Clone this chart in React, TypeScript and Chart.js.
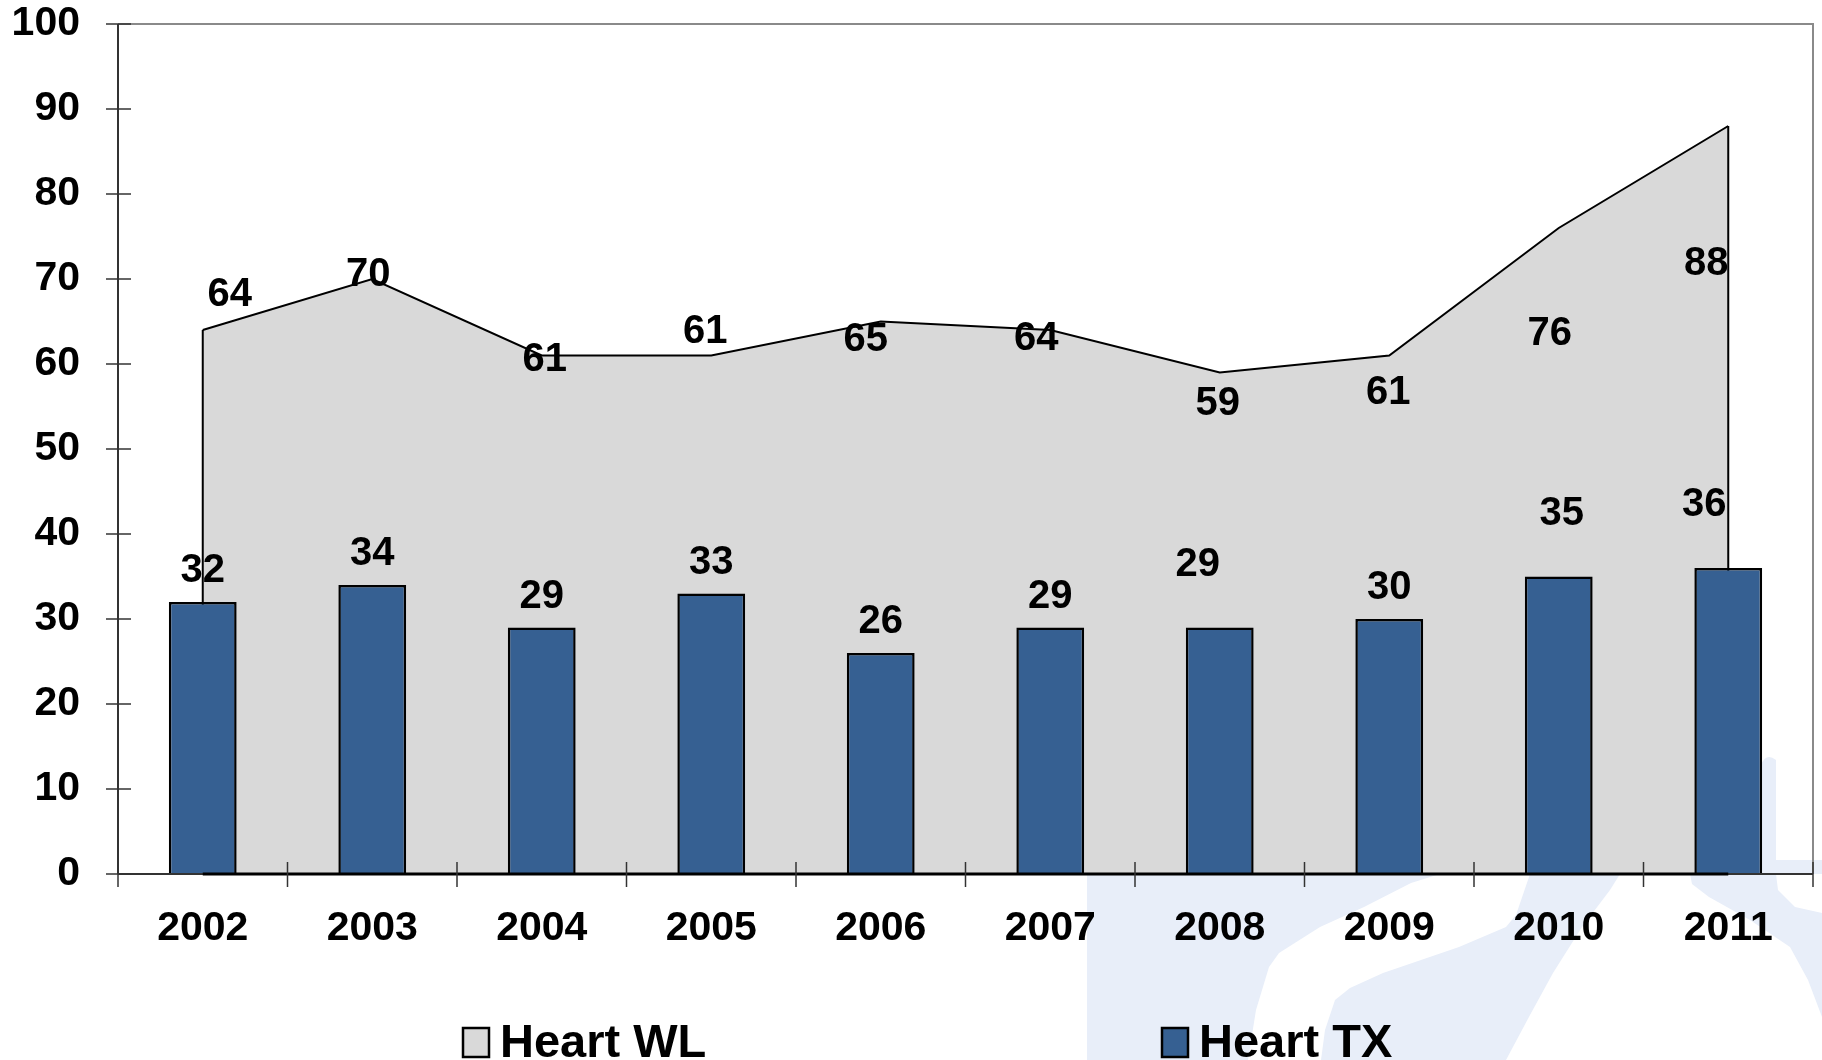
import React, { useEffect, useRef } from 'react';
import { Chart, registerables } from 'chart.js';

Chart.register(...registerables);

const years = ['2002', '2003', '2004', '2005', '2006', '2007', '2008', '2009', '2010', '2011'];
const heartWL = [64, 70, 61, 61, 65, 64, 59, 61, 76, 88];
const heartTX = [32, 34, 29, 33, 26, 29, 29, 30, 35, 36];
const seriesNames = ['Heart WL', 'Heart TX'];

// label offsets (style only): [dx, dy] from the data point / bar top to label centre
const wlLabelOffsets = [[27, -38], [-4, -7], [3, 1], [-6, -27], [-15, 15], [-14, 6], [-2, 28], [-1, 34], [-9, 103], [-22, 135]];
const txLabelOffsets = [[0, -34], [0, -34], [0, -34], [0, -34], [0, -34], [0, -34], [-22, -66], [0, -34], [3, -66], [-24, -66]];

const FONT = '"Liberation Sans", Arial, Helvetica, sans-serif';
const WL_FILL = '#D9D9D9';
const TX_FILL = '#366092';
const WM = '#E8EEF9';

function poly(ctx: any, pts: number[][]) {
  ctx.beginPath();
  ctx.moveTo(pts[0][0], pts[0][1]);
  for (let i = 1; i < pts.length; i++) ctx.lineTo(pts[i][0], pts[i][1]);
  ctx.closePath();
  ctx.fill();
}

const watermarkPlugin = {
  id: 'watermark',
  beforeDraw(chart: any) {
    const ctx = chart.ctx;
    ctx.save();
    ctx.fillStyle = '#ffffff';
    ctx.fillRect(0, 0, chart.width, chart.height);
    ctx.fillStyle = WM;
    ctx.fillRect(1087, 860, 1822 - 1087, 200);
    ctx.beginPath();
    ctx.moveTo(1761, 870);
    ctx.lineTo(1761, 765);
    ctx.quadraticCurveTo(1766, 752, 1776, 760);
    ctx.lineTo(1776, 870);
    ctx.closePath();
    ctx.fill();
    ctx.fillStyle = '#ffffff';
    poly(ctx, [[1248, 1060], [1256, 1010], [1269, 967], [1279, 953], [1320, 927], [1364, 907], [1411, 883], [1440, 874], [1530, 874], [1516, 915], [1506, 927], [1459, 947], [1383, 973], [1350, 988], [1335, 1000], [1325, 1030], [1321, 1060]]);
    poly(ctx, [[1506, 1060], [1530, 1015], [1553, 973], [1582, 927], [1610, 890], [1620, 874], [1690, 874], [1692, 884], [1709, 897], [1750, 920], [1790, 947], [1808, 980], [1822, 1017], [1822, 1060]]);
    poly(ctx, [[1776, 874], [1778, 890], [1795, 907], [1822, 913], [1822, 874]]);
    ctx.restore();
  },
};

const decorPlugin = {
  id: 'decor',
  afterDatasetDraw(chart: any, args: any) {
    if (args.meta.type !== 'line') return;
    const pts = args.meta.data;
    const y0 = chart.scales.y.getPixelForValue(0);
    const ctx = chart.ctx;
    ctx.save();
    ctx.strokeStyle = '#000';
    ctx.lineWidth = 2;
    ctx.beginPath();
    ctx.moveTo(pts[0].x, pts[0].y);
    ctx.lineTo(pts[0].x, y0);
    ctx.lineTo(pts[pts.length - 1].x, y0);
    ctx.lineTo(pts[pts.length - 1].x, pts[pts.length - 1].y);
    ctx.stroke();
    ctx.restore();
  },
  afterDatasetsDraw(chart: any) {
    const ctx = chart.ctx;
    const { left, right, top, bottom } = chart.chartArea;
    const xs = chart.scales.x;
    const ys = chart.scales.y;
    ctx.save();
    // plot border (top/right)
    ctx.strokeStyle = '#8a8a8a';
    ctx.lineWidth = 2;
    ctx.beginPath();
    ctx.moveTo(left, top);
    ctx.lineTo(right, top);
    ctx.lineTo(right, bottom);
    ctx.stroke();
    // axes
    ctx.strokeStyle = '#333';
    ctx.lineWidth = 2;
    ctx.beginPath();
    ctx.moveTo(left, top);
    ctx.lineTo(left, bottom);
    ctx.stroke();
    ctx.beginPath();
    ctx.moveTo(left, bottom);
    ctx.lineTo(right, bottom);
    ctx.stroke();
    // bold baseline under the area
    const lp = chart.getDatasetMeta(0).data;
    ctx.strokeStyle = '#000';
    ctx.lineWidth = 3;
    ctx.beginPath();
    ctx.moveTo(lp[0].x, bottom);
    ctx.lineTo(lp[lp.length - 1].x, bottom);
    ctx.stroke();
    // tick marks
    ctx.strokeStyle = '#333';
    ctx.lineWidth = 1.5;
    ys.ticks.forEach((t: any) => {
      const y = ys.getPixelForValue(t.value);
      ctx.beginPath();
      ctx.moveTo(left - 12, y);
      ctx.lineTo(left + 13, y);
      ctx.stroke();
    });
    const n = years.length;
    const cw = (right - left) / n;
    for (let i = 0; i <= n; i++) {
      const x = i < n ? xs.getPixelForValue(i) - cw / 2 : xs.getPixelForValue(n - 1) + cw / 2;
      ctx.beginPath();
      ctx.moveTo(x, bottom - 12);
      ctx.lineTo(x, bottom + 13);
      ctx.stroke();
    }
    // data labels
    const size = 40;
    ctx.font = `bold ${size}px ${FONT}`;
    ctx.fillStyle = '#000';
    ctx.textAlign = 'center';
    ctx.textBaseline = 'alphabetic';
    const wl = chart.getDatasetMeta(0).data;
    wl.forEach((p: any, i: number) => {
      const [dx, dy] = wlLabelOffsets[i];
      ctx.fillText(String(heartWL[i]), p.x + dx, p.y + dy + size * 0.358);
    });
    const tx = chart.getDatasetMeta(1).data;
    tx.forEach((b: any, i: number) => {
      const [dx, dy] = txLabelOffsets[i];
      ctx.fillText(String(heartTX[i]), b.x + dx, b.y + dy + size * 0.358);
    });
    // legend
    const lsize = 47;
    ctx.font = `bold ${lsize}px ${FONT}`;
    ctx.textAlign = 'left';
    const items = [
      { x: 463, fill: WL_FILL, text: seriesNames[0] },
      { x: 1162, fill: TX_FILL, text: seriesNames[1] },
    ];
    items.forEach((it) => {
      ctx.fillStyle = it.fill;
      ctx.fillRect(it.x, 1028, 26, 29);
      ctx.strokeStyle = '#000';
      ctx.lineWidth = 2.5;
      ctx.strokeRect(it.x, 1028, 26, 29);
      ctx.fillStyle = '#000';
      ctx.fillText(it.text, it.x + 37, 1057);
    });
    ctx.restore();
  },
};

export default function App() {
  const ref = useRef<HTMLCanvasElement | null>(null);
  useEffect(() => {
    document.body.style.margin = '0';
    if (!ref.current) return;
    const chart = new Chart(ref.current, {
      type: 'bar',
      data: {
        labels: years,
        datasets: [
          {
            type: 'line',
            label: seriesNames[0],
            data: heartWL,
            fill: 'origin',
            backgroundColor: WL_FILL,
            borderColor: '#000',
            borderWidth: 2,
            pointRadius: 0,
            tension: 0,
            order: 2,
          } as any,
          {
            type: 'bar',
            label: seriesNames[1],
            data: heartTX,
            backgroundColor: TX_FILL,
            borderColor: '#000',
            borderWidth: 2.5,
            categoryPercentage: 0.8,
            barPercentage: 0.5,
            order: 1,
          },
        ],
      },
      options: {
        responsive: false,
        animation: false,
        devicePixelRatio: 1,
        layout: { padding: { top: 24, right: 9, left: 0, bottom: 0 } },
        plugins: { legend: { display: false }, tooltip: { enabled: false } },
        scales: {
          x: {
            type: 'category',
            offset: true,
            grid: { display: false, drawTicks: false },
            border: { display: false },
            ticks: {
              color: '#000',
              font: { family: FONT, size: 41, weight: 'bold' },
              padding: 30,
              maxRotation: 0,
              autoSkip: false,
            },
            afterFit(s: any) {
              s.height = 186;
            },
          },
          y: {
            min: 0,
            max: 100,
            grid: { display: false, drawTicks: false },
            border: { display: false },
            ticks: {
              stepSize: 10,
              color: '#000',
              font: { family: FONT, size: 41, weight: 'bold' },
              padding: 38,
            },
            afterFit(s: any) {
              s.width = 118;
              s.paddingTop = 0;
              s.paddingBottom = 0;
            },
          },
        },
      },
      plugins: [watermarkPlugin, decorPlugin],
    });
    return () => chart.destroy();
  }, []);
  return (
    <div style={{ width: 1822, height: 1060, position: 'relative' }}>
      <canvas ref={ref} width={1822} height={1060} />
    </div>
  );
}
